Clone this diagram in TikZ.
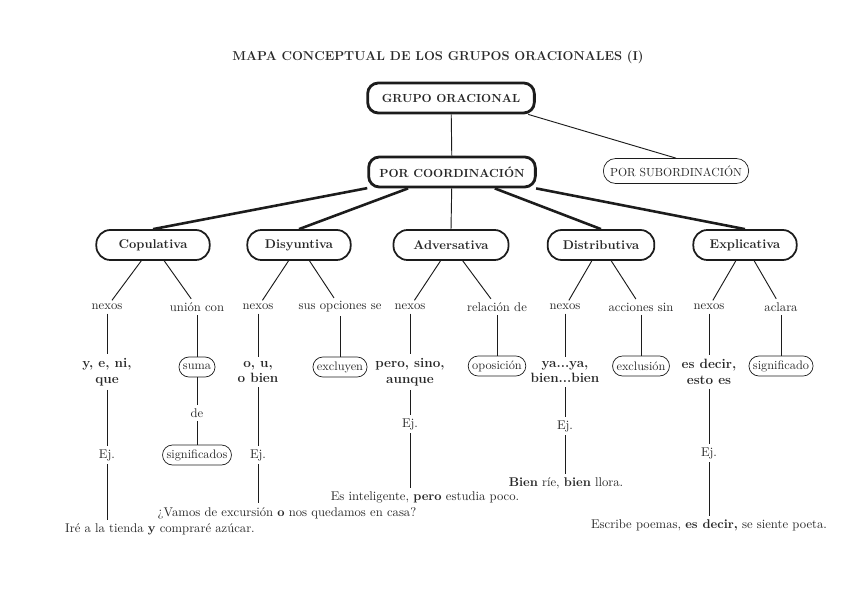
\documentclass[tikz,border=0pt]{standalone}
\usepackage{tikz}
\usetikzlibrary{positioning, calc}
\usepackage{xcolor}
\definecolor{mapaInk}{RGB}{28, 28, 28}
\definecolor{mapaText}{RGB}{40, 40, 40}

\begin{document}
\begin{tikzpicture}[
        x=0.03cm, y=-0.03cm,
        rootNode/.style={rectangle, draw=mapaInk, text=mapaText, line width=2.4pt, rounded corners=0.32cm, minimum width=5cm, minimum height=0.9cm, align=center, font=\bfseries},
        typeNode/.style={rectangle, draw=mapaInk, text=mapaText, line width=1.5pt, rounded corners=0.42cm, minimum width=3.1cm, minimum height=0.9cm, font=\fontsize{10.8}{13}\selectfont\bfseries},
        subNode/.style={rectangle, draw=mapaInk, text=mapaText, line width=0.6pt, rounded corners=0.37cm, minimum height=0.75cm, inner xsep=0.2cm},
        ovalNode/.style={rectangle, draw=mapaInk, text=mapaText, line width=0.6pt, rounded corners=0.3cm, minimum height=0.6cm, inner xsep=0.12cm, inner ysep=0.05cm, font=\fontsize{10.5}{12}\selectfont},
        linkNode/.style={text=mapaText, inner sep=3pt, font=\fontsize{10.8}{13}\selectfont},
        nexoNode/.style={text=mapaText, align=center, font=\fontsize{11.5}{13.5}\selectfont\bfseries},
        thinLink/.style={draw=mapaInk, line width=0.8pt},
        thickLink/.style={draw=mapaInk, line width=2.2pt}
    ]
        \useasboundingbox (0,0) rectangle (848,599);

        \node[text=mapaText, font=\fontsize{11}{13}\selectfont\bfseries] (titulo) at (438,57) {MAPA CONCEPTUAL DE LOS GRUPOS ORACIONALES (I)};

        \node[rootNode] (grupo) at (451,98) {GRUPO ORACIONAL};
        \node[rootNode] (coord) at (452,172) {POR COORDINACIÓN};
        \node[subNode] (subord) at (676,171) {POR SUBORDINACIÓN};

        \node[typeNode, minimum width=3.4cm] (copul) at (153,245) {Copulativa};
        \node[typeNode] (disy) at (299,245) {Disyuntiva};
        \node[typeNode, minimum width=3.45cm] (adver) at (451,245) {Adversativa};
        \node[typeNode, minimum width=3.2cm] (distr) at (601,245) {Distributiva};
        \node[typeNode] (expli) at (745,245) {Explicativa};

        \node[linkNode] (nexCop) at (107,307) {nexos};
        \node[linkNode] (unionCop) at (197,307) {unión con};
        \node[linkNode] (nexDis) at (258,307) {nexos};
        \node[linkNode] (opcDis) at (340,307) {sus opciones se};
        \node[linkNode] (nexAdv) at (410,307) {nexos};
        \node[linkNode] (relAdv) at (497,307) {relación de};
        \node[linkNode] (nexDist) at (565,307) {nexos};
        \node[linkNode] (accDist) at (641,307) {acciones sin};
        \node[linkNode] (nexExp) at (709,307) {nexos};
        \node[linkNode] (aclExp) at (781,307) {aclara};

        \node[nexoNode] (yCop) at (107,372) {y, e, ni,\\que};
        \node[ovalNode] (suma) at (197,367) {suma};
        \node[nexoNode] (oDis) at (258,372) {o, u,\\o bien};
        \node[ovalNode] (excluyen) at (340,367) {excluyen};
        \node[nexoNode] (peroAdv) at (410,372) {pero, sino,\\aunque};
        \node[ovalNode] (oposicion) at (497,366) {oposición};
        \node[nexoNode] (yaDist) at (565,372) {ya...ya,\\bien...bien};
        \node[ovalNode] (exclusion) at (641,366) {exclusión};
        \node[nexoNode] (esExp) at (709,372) {es decir,\\esto es};
        \node[ovalNode] (significado) at (781,366) {significado};

        \node[linkNode] (deCop) at (197,413) {de};
        \node[ovalNode] (significados) at (197,455) {significados};
        \node[linkNode] (ejCop) at (107,455) {Ej.};
        \node[linkNode] (ejDis) at (258,455) {Ej.};
        \node[linkNode] (ejAdv) at (410,424) {Ej.};
        \node[linkNode] (ejDist) at (565,426) {Ej.};
        \node[linkNode] (ejExp) at (709,453) {Ej.};

        \node[linkNode] (fraseCop) at (160,529) {Iré a la tienda \textbf{y} compraré azúcar.};
        \node[linkNode] (fraseDis) at (287,513) {¿Vamos de excursión \textbf{o} nos quedamos en casa?};
        \node[linkNode] (fraseAdv) at (425,497) {Es inteligente, \textbf{pero} estudia poco.};
        \node[linkNode] (fraseDist) at (566,483) {\textbf{Bien} ríe, \textbf{bien} llora.};
        \node[linkNode] (fraseExp) at (709,525) {Escribe poemas, \textbf{es decir,} se siente poeta.};

        \draw[thinLink] (grupo) -- (coord);
        \draw[thinLink] (grupo.348) -- (subord.north);

        \draw[thickLink] (coord) -- (copul.north);
        \draw[thickLink] (coord) -- (disy.north);
        \draw[thinLink] (coord) -- (adver.north);
        \draw[thickLink] (coord) -- (distr.north);
        \draw[thickLink] (coord) -- (expli.north);

        \draw[thinLink] (copul) -- (nexCop);
        \draw[thinLink] (copul) -- (unionCop);
        \draw[thinLink] (disy) -- (nexDis);
        \draw[thinLink] (disy) -- (opcDis);
        \draw[thinLink] (adver) -- (nexAdv);
        \draw[thinLink] (adver) -- (relAdv);
        \draw[thinLink] (distr) -- (nexDist);
        \draw[thinLink] (distr) -- (accDist);
        \draw[thinLink] (expli) -- (nexExp);
        \draw[thinLink] (expli) -- (aclExp);

        \draw[thinLink] (nexCop) -- (yCop);
        \draw[thinLink] (unionCop) -- (suma);
        \draw[thinLink] (nexDis) -- (oDis);
        \draw[thinLink] (opcDis) -- (excluyen);
        \draw[thinLink] (nexAdv) -- (peroAdv);
        \draw[thinLink] (relAdv) -- (oposicion);
        \draw[thinLink] (nexDist) -- (yaDist);
        \draw[thinLink] (accDist) -- (exclusion);
        \draw[thinLink] (nexExp) -- (esExp);
        \draw[thinLink] (aclExp) -- (significado);

        \draw[thinLink] (suma) -- (deCop);
        \draw[thinLink] (deCop) -- (significados);
        \draw[thinLink] (yCop) -- (ejCop);
        \draw[thinLink] (oDis) -- (ejDis);
        \draw[thinLink] (peroAdv) -- (ejAdv);
        \draw[thinLink] (yaDist) -- (ejDist);
        \draw[thinLink] (esExp) -- (ejExp);

        \draw[thinLink] (ejCop) -- (ejCop |- fraseCop.north);
        \draw[thinLink] (ejDis) -- (ejDis |- fraseDis.north);
        \draw[thinLink] (ejAdv) -- (ejAdv |- fraseAdv.north);
        \draw[thinLink] (ejDist) -- (ejDist |- fraseDist.north);
        \draw[thinLink] (ejExp) -- (ejExp |- fraseExp.north);
    \end{tikzpicture}
\end{document}
